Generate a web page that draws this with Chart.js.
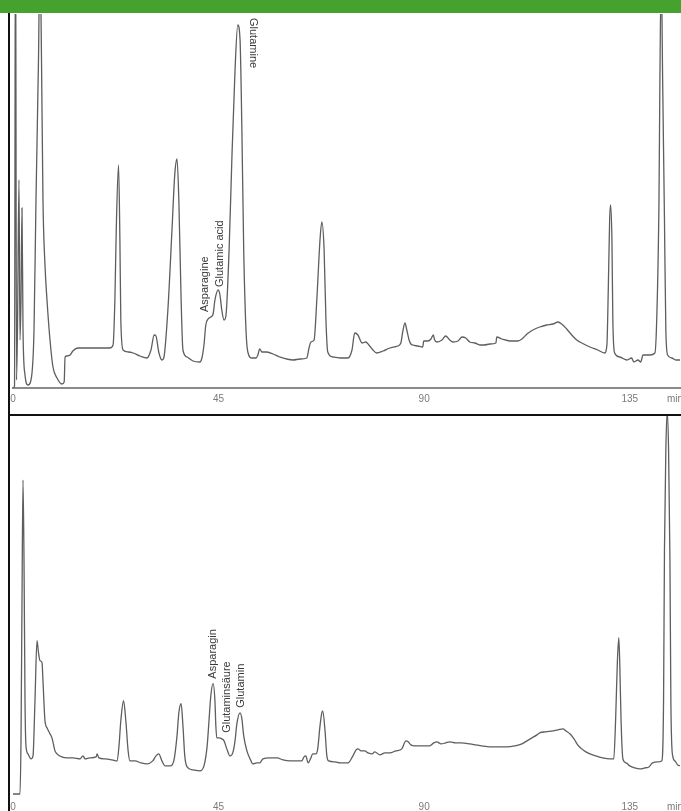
<!DOCTYPE html>
<html>
<head>
<meta charset="utf-8">
<script src="https://cdn.jsdelivr.net/npm/chart.js@4/dist/chart.umd.min.js"></script>
<style>
  html, body { margin: 0; padding: 0; background: #fff; overflow: hidden; width: 681px; height: 811px; }
  #bar { position: absolute; left: 0; top: 0; width: 681px; height: 13px; background: #45a22f; z-index: 5; }
  #frameLeft { position: absolute; left: 8px; top: 13px; width: 2px; height: 798px; background: #111; z-index: 4; }
  #divider { position: absolute; left: 8px; top: 414px; width: 673px; height: 2px; background: #111; z-index: 4; }
  .plot { position: absolute; left: 0; width: 700px; }
  #top { top: 14px; height: 396px; }
  #bottom { top: 416px; height: 402px; }
</style>
</head>
<body>
<div id="bar"></div>
<div id="frameLeft"></div>
<div id="divider"></div>
<div class="plot" id="top"><canvas id="topChart"></canvas></div>
<div class="plot" id="bottom"><canvas id="bottomChart"></canvas></div>
<script>
// Temps de rétention (min) et signal, chromatogramme du haut
const topTime = [
  0, 0.33, 0.55, 0.77, 0.98, 1.31, 1.53, 1.75, 1.97, 2.19,
  2.63, 3.28, 3.94, 4.6, 5.03, 5.58, 5.9, 6.24, 6.56, 7.0,
  7.44, 8.1, 8.75, 9.63, 10.7, 11.2, 11.4, 11.8, 12.5, 13.1,
  14.2, 16.8, 21.2, 21.9, 22.3, 22.6, 23.1, 23.4, 23.6, 24.1,
  25.2, 26.3, 27.8, 29.3, 30.2, 30.9, 31.3, 31.9, 32.6, 33.0,
  33.9, 34.8, 35.4, 35.9, 36.3, 36.8, 37.2, 38.1, 39.4, 40.9,
  41.4, 41.8, 42.2, 42.7, 43.3, 43.8, 44.2, 44.9, 45.3, 45.7,
  46.2, 46.6, 47.3, 47.9, 48.6, 49.2, 49.7, 50.1, 50.5, 51.0,
  51.4, 52.3, 53.2, 53.6, 54.0, 54.5, 55.4, 56.9, 58.4, 61.3,
  62.8, 64.3, 64.8, 65.2, 65.9, 66.5, 67.2, 67.6, 68.1, 68.5,
  68.9, 70.0, 71.6, 73.3, 74.2, 74.8, 75.5, 76.4, 77.2, 77.9,
  78.8, 79.6, 81.0, 82.5, 84.2, 84.9, 85.3, 85.8, 86.2, 86.7,
  87.1, 87.5, 88.6, 89.7, 89.9, 90.8, 91.5, 92.0, 92.3, 92.8,
  93.9, 94.7, 95.6, 96.3, 97.4, 98.3, 99.1, 100, 101.1, 102.2,
  103.1, 104.4, 105.7, 105.9, 107.0, 108.8, 110.5, 111.4, 112.5, 113.8,
  115.3, 116.8, 118.2, 119.3, 120.1, 121.2, 122.3, 123.4, 124.5, 126.3,
  128.0, 129.5, 130.0, 130.3, 130.6, 130.8, 131.1, 131.3, 131.7, 132.8,
  134.4, 135.4, 135.9, 136.8, 137.4, 137.9, 139.4, 140.5, 140.9, 141.4,
  141.6, 141.9, 142.2, 142.6, 142.9, 143.3, 144.2, 145.1, 146.2
];
const topSignal = [
  0, 2, 500, 8, 58, 208, 48, 88, 180, 58,
  13, 3, 8, 58, 188, 328, 440, 328, 188, 123,
  88, 48, 21, 10, 4, 6, 31, 32, 33, 37,
  40, 40, 40, 43, 88, 158, 223, 148, 68, 38,
  36, 35, 32, 30, 38, 53, 52, 36, 28, 30,
  78, 158, 213, 229, 188, 88, 38, 31, 27, 26,
  31, 43, 63, 69, 71, 74, 88, 98, 93, 78,
  68, 72, 138, 228, 318, 363, 348, 258, 138, 58,
  36, 30, 30, 33, 39, 36, 36, 34, 31, 28,
  29, 30, 40, 46, 48, 88, 148, 166, 138, 68,
  36, 31, 30, 30, 38, 55, 53, 45, 46, 43,
  38, 35, 37, 40, 42, 45, 56, 65, 58, 48,
  44, 43, 42, 41, 47, 47, 49, 53, 48, 46,
  48, 52, 48, 46, 47, 51, 50, 46, 45, 43,
  43, 44, 45, 51, 49, 47, 47, 49, 54, 58,
  61, 63, 64, 66, 64, 59, 53, 48, 45, 41,
  38, 35, 43, 98, 168, 183, 148, 68, 35, 31,
  28, 30, 26, 28, 26, 33, 33, 35, 68, 188,
  308, 418, 308, 168, 58, 33, 30, 28, 28
];

// Chromatogramme du bas
const bottomTime = [
  0, 1.53, 1.75, 1.97, 2.19, 2.41, 2.63, 2.84, 3.28, 3.94,
  4.38, 4.81, 5.25, 5.58, 5.91, 6.35, 6.56, 7.0, 7.44, 8.1,
  8.53, 9.19, 9.63, 10.7, 11.8, 13.1, 14.7, 15.3, 15.8, 16.8,
  18.2, 18.4, 18.8, 20.1, 21.7, 22.8, 23.2, 23.6, 24.2, 24.7,
  25.2, 25.6, 26.7, 28.0, 29.3, 30.6, 31.3, 31.9, 32.6, 33.3,
  34.4, 35.2, 35.9, 36.3, 36.8, 37.2, 37.6, 38.1, 39.4, 40.9,
  41.8, 42.5, 42.9, 43.3, 43.8, 44.2, 44.4, 44.6, 45.1, 45.7,
  46.2, 46.8, 47.5, 48.1, 48.6, 49.0, 49.7, 50.1, 50.5, 51.2,
  51.9, 52.5, 53.4, 54.0, 54.7, 56.2, 57.8, 59.1, 60.6, 61.9,
  63.2, 63.7, 64.1, 64.6, 65.2, 65.6, 66.3, 66.7, 67.2, 67.6,
  67.8, 68.3, 68.7, 69.1, 70.5, 71.6, 73.3, 74.4, 75.1, 75.5,
  76.2, 77.0, 77.7, 78.6, 79.2, 80.3, 81.4, 82.5, 83.8, 85.1,
  86.0, 86.5, 87.1, 87.9, 89.1, 90.2, 91.2, 92.1, 92.8, 93.7,
  94.7, 95.6, 96.9, 98.2, 100, 101.3, 102.6, 104.4, 106.6, 108.1,
  109.8, 111.4, 112.5, 113.6, 114.7, 115.3, 116.6, 118.2, 119.3, 120.4,
  121.0, 121.9, 122.8, 123.6, 124.5, 125.4, 126.3, 127.6, 129.1, 130.6,
  131.5, 131.9, 132.3, 132.6, 132.8, 133.1, 133.5, 134.2, 135.0, 136.1,
  137.2, 138.3, 139.2, 140.0, 141.1, 142.0, 142.4, 142.6, 142.9, 143.2,
  143.5, 143.8, 144.0, 144.4, 144.9, 145.5, 146.2
];
const bottomSignal = [
  2, 2, 55, 195, 315, 235, 95, 50, 42, 37,
  40, 95, 155, 143, 135, 133, 115, 75, 68, 62,
  58, 45, 42, 39, 38, 38, 37, 40, 37, 38,
  39, 42, 38, 37, 36, 35, 50, 75, 95, 75,
  45, 35, 35, 33, 32, 35, 40, 42, 35, 30,
  30, 35, 60, 83, 92, 70, 40, 29, 26, 25,
  30, 50, 75, 100, 112, 95, 70, 58, 58, 57,
  55, 47, 40, 43, 55, 72, 83, 77, 60, 45,
  37, 32, 33, 33, 37, 38, 38, 36, 35, 35,
  35, 39, 40, 33, 38, 42, 42, 47, 70, 83,
  85, 65, 40, 35, 34, 33, 33, 40, 46, 47,
  45, 45, 43, 42, 44, 41, 43, 43, 45, 47,
  55, 54, 51, 50, 50, 50, 50, 53, 54, 52,
  53, 54, 53, 53, 52, 51, 50, 49, 49, 49,
  50, 52, 55, 58, 61, 63, 64, 65, 66, 67,
  65, 62, 57, 51, 47, 44, 42, 40, 38, 37,
  37, 75, 135, 158, 135, 75, 37, 33, 30, 28,
  27, 28, 29, 33, 34, 35, 95, 245, 345, 383,
  345, 235, 95, 40, 35, 31, 30
];

// Graduations de l'axe des temps
const tickValues = [0, 45, 90, 135, 144.9];
const tickLabels = ['0', '45', '90', '135', 'min'];

// Noms des pics (texte vertical)
const topPeakNames = ['Asparagine', 'Glutamic acid', 'Glutamine'];
const topPeakTimes = [42.0, 45.3, 52.5];
const topPeakLevels = [76, 101, 370];
const topPeakDown = [false, false, true];

const bottomPeakNames = ['Asparagin', 'Glutaminsäure', 'Glutamin'];
const bottomPeakTimes = [43.8, 46.8, 49.9];
const bottomPeakLevels = [117, 63, 88];
const bottomPeakDown = [false, false, false];

function toPoints(times, values) {
    return times.map((t, i) => ({ x: t, y: values[i] }));
}

// Plugin pour écrire les noms des pics
const peakLabels = {
    id: 'peakLabels',
    afterDatasetsDraw(chart, args, opts) {
        const ctx = chart.ctx;
        const xs = chart.scales.x;
        const ys = chart.scales.y;
        ctx.save();
        ctx.fillStyle = '#3a3a3a';
        ctx.font = '11px "Liberation Sans", Arial, sans-serif';
        ctx.textBaseline = 'middle';
        ctx.textAlign = 'left';
        opts.names.forEach((name, i) => {
            const px = xs.getPixelForValue(opts.times[i]);
            const py = ys.getPixelForValue(opts.levels[i]);
            ctx.save();
            ctx.translate(px, py);
            ctx.rotate(opts.down[i] ? Math.PI / 2 : -Math.PI / 2);
            ctx.fillText(name, 0, 0);
            ctx.restore();
        });
        ctx.restore();
    }
};

function makeChart(canvasId, times, values, yMax, peaks, showAxisLine, padBottom) {
    const ctx = document.getElementById(canvasId).getContext('2d');
    return new Chart(ctx, {
        type: 'line',
        data: {
            datasets: [{
                data: toPoints(times, values),
                borderColor: '#5e5e5e',
                borderWidth: 1.3,
                pointRadius: 0,
                cubicInterpolationMode: 'monotone',
                fill: false
            }]
        },
        options: {
            responsive: true,
            maintainAspectRatio: false,
            animation: false,
            events: [],
            layout: { padding: { left: 13, right: 20, top: 0, bottom: padBottom } },
            plugins: {
                legend: { display: false },
                tooltip: { enabled: false },
                peakLabels: peaks
            },
            scales: {
                x: {
                    type: 'linear',
                    min: 0,
                    max: 146,
                    grid: { display: false, drawTicks: false },
                    border: { display: showAxisLine, color: '#8a8a8a', width: 2 },
                    afterBuildTicks: function(scale) {
                        scale.ticks = tickValues.map(v => ({ value: v }));
                    },
                    ticks: {
                        autoSkip: false,
                        maxRotation: 0,
                        padding: 5,
                        color: '#7a7a7a',
                        font: { family: '"Liberation Sans", Arial, sans-serif', size: 10 },
                        callback: function(value, index) {
                            return tickLabels[index];
                        }
                    }
                },
                y: {
                    display: false,
                    min: 0,
                    max: yMax
                }
            }
        },
        plugins: [peakLabels]
    });
}

makeChart('topChart', topTime, topSignal, 374, {
    names: topPeakNames, times: topPeakTimes, levels: topPeakLevels, down: topPeakDown
}, true, 0);

makeChart('bottomChart', bottomTime, bottomSignal, 379, {
    names: bottomPeakNames, times: bottomPeakTimes, levels: bottomPeakLevels, down: bottomPeakDown
}, false, 0);
</script>
</body>
</html>
